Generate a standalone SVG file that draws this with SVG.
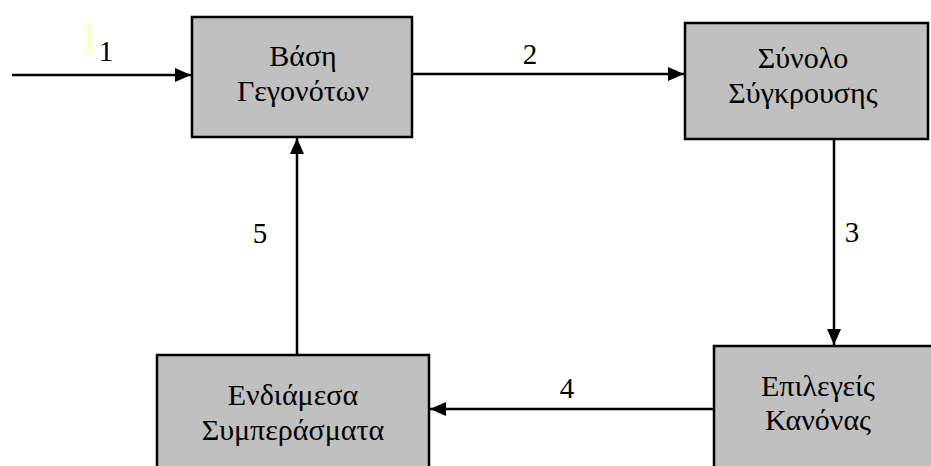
<svg xmlns="http://www.w3.org/2000/svg" width="931" height="466" viewBox="0 0 931 466">
<style>
.box{fill:#c0c0c0;stroke:#000;stroke-width:2.5}
.t{font-family:"Liberation Serif","Times New Roman",serif;font-size:30px;fill:#000;text-anchor:middle}
.n{font-family:"Liberation Serif","Times New Roman",serif;font-size:29px;fill:#000;text-anchor:middle}
.c{stroke:#000;stroke-width:2.5;fill:none}
</style>
<defs>
<marker id="ah" viewBox="0 0 16 14" refX="16" refY="7" markerWidth="16" markerHeight="14" markerUnits="userSpaceOnUse" orient="auto">
<path d="M0,0 L16,7 L0,14 Z" fill="#000"/>
</marker>
</defs>
<rect width="931" height="466" fill="#fff"/>
<g id="connectors">
<line class="c" x1="12" y1="75" x2="191" y2="75" marker-end="url(#ah)"/>
<line class="c" x1="412" y1="74" x2="684" y2="74" marker-end="url(#ah)"/>
<line class="c" x1="834" y1="139" x2="834" y2="345" marker-end="url(#ah)"/>
<line class="c" x1="714" y1="409" x2="430" y2="409" marker-end="url(#ah)"/>
<line class="c" x1="297" y1="355" x2="297" y2="138" marker-end="url(#ah)"/>
</g>
<g id="labels">
<text x="89" y="53" font-family="Liberation Serif,serif" font-size="44" fill="#ffffc0" text-anchor="middle">1</text>
<text class="n" x="106" y="61">1</text>
<text class="n" x="530" y="64">2</text>
<text class="n" x="852" y="242">3</text>
<text class="n" x="567" y="398">4</text>
<text class="n" x="260" y="243">5</text>
</g>
<g id="node-vasi">
<rect class="box" x="192" y="17" width="220" height="120"/>
<text class="t" x="303" y="66">Βάση</text>
<text class="t" x="303" y="101">Γεγονότων</text>
</g>
<g id="node-synolo">
<rect class="box" x="685" y="23" width="243" height="116"/>
<text class="t" x="803" y="68">Σύνολο</text>
<text class="t" x="803" y="103">Σύγκρουσης</text>
</g>
<g id="node-endiamesa">
<rect class="box" x="157" y="355" width="272" height="130"/>
<text class="t" x="293" y="405">Ενδιάμεσα</text>
<text class="t" x="293" y="440">Συμπεράσματα</text>
</g>
<g id="node-epilegeis">
<rect class="box" x="714" y="346" width="240" height="140"/>
<text class="t" x="818" y="396">Επιλεγείς</text>
<text class="t" x="818" y="430">Κανόνας</text>
</g>
</svg>
